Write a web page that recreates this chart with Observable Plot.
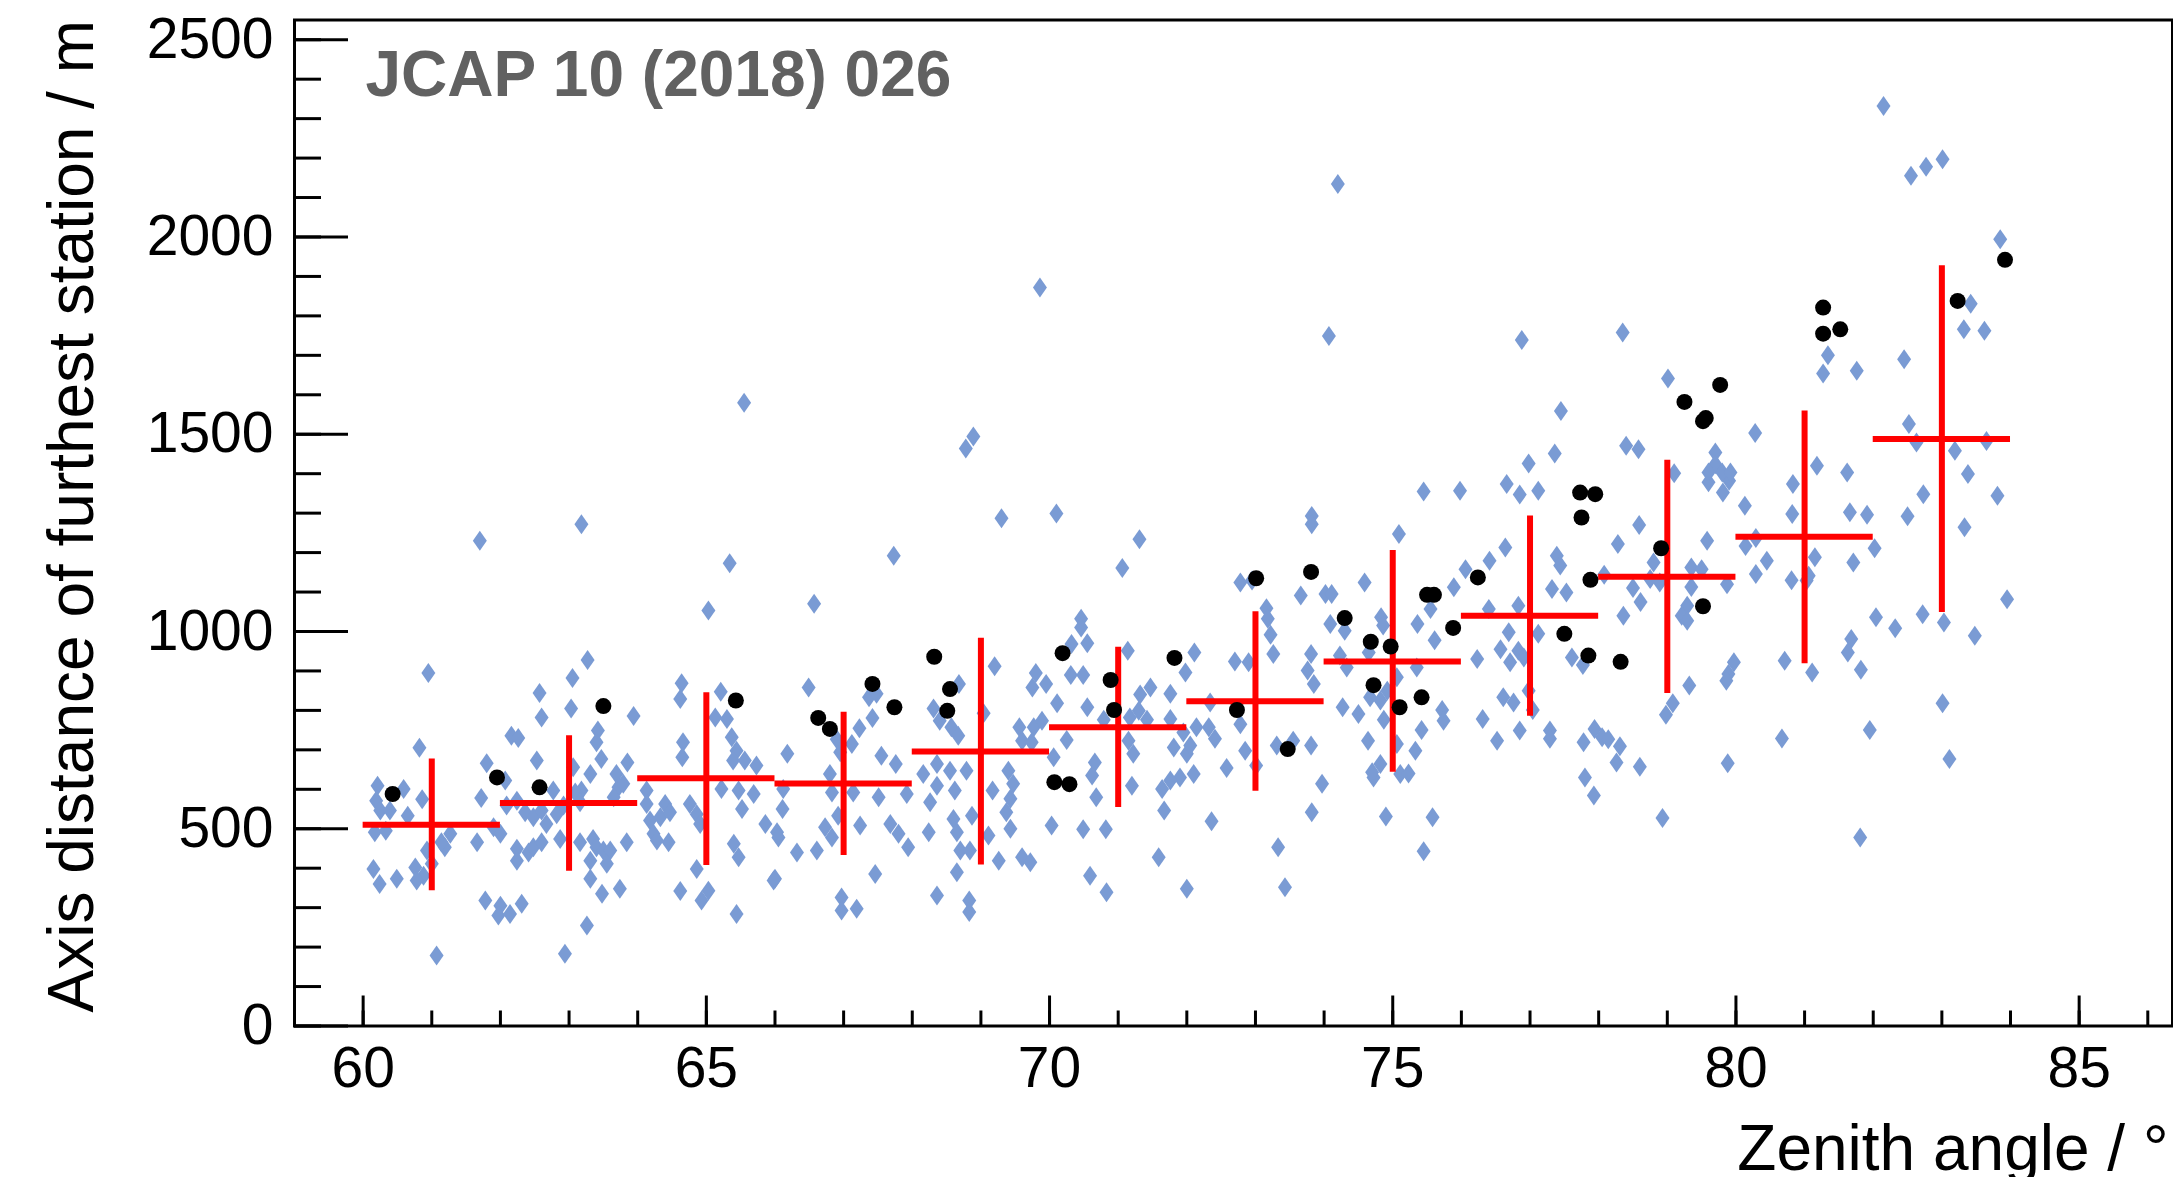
<!DOCTYPE html>
<html>
<head>
<meta charset="utf-8">
<script src="https://cdn.jsdelivr.net/npm/d3@7"></script>
<script src="https://cdn.jsdelivr.net/npm/@observablehq/plot@0.6"></script>
<style>
html, body { margin: 0; padding: 0; background: #fff; }
#chart { width: 2173px; height: 1177px; overflow: hidden; }
#chart svg { display: block; }
</style>
</head>
<body>
<div id="chart"></div>
<script>
// ---- Simulated events (blue diamonds): zenith angle (deg) and distance (m)
const simAngle = [
63.18,61.70,65.34,65.03,63.27,60.95,63.05,62.57,63.03,62.60,
63.94,64.64,64.62,65.21,65.13,65.30,65.37,60.82,62.16,62.26,
63.42,63.40,61.80,62.53,63.47,63.85,64.66,64.65,65.44,65.39,
65.56,65.73,60.21,60.59,60.86,61.72,62.07,60.19,60.25,60.39,
60.65,60.17,60.33,61.90,62.00,62.09,62.24,62.36,62.48,62.60,
62.67,62.82,62.92,62.77,63.06,63.18,63.31,63.09,63.16,63.69,
63.72,63.79,63.65,64.13,64.13,64.18,64.23,64.33,64.40,64.47,
64.45,64.28,64.76,64.86,64.91,65.22,65.47,65.69,65.52,65.86,
61.27,61.19,61.14,61.66,60.93,61.00,60.76,60.88,60.78,60.15,
60.24,60.49,62.24,62.24,62.41,62.48,62.60,62.87,63.16,63.35,
63.40,63.50,63.60,63.31,63.55,63.31,63.48,63.74,63.84,61.78,
62.00,61.97,62.14,62.31,63.26,61.07,62.94,64.62,64.86,64.93,
65.03,65.40,65.47,65.44,65.98,65.55,
69.30,70.10,67.73,71.31,71.06,66.57,70.46,70.46,70.32,70.55,
69.20,71.14,66.49,67.37,67.48,67.42,67.23,68.68,68.31,68.40,
68.57,68.67,69.04,69.80,69.75,69.95,70.11,70.31,70.49,70.55,
70.79,71.32,71.47,71.30,71.17,71.42,71.76,71.76,71.98,71.95,
71.81,71.90,71.76,71.64,72.00,69.56,69.77,69.89,69.60,69.74,
70.25,70.06,70.66,70.62,70.68,71.15,71.22,71.20,71.67,71.59,
72.00,70.59,70.83,70.03,70.49,70.82,66.18,66.12,66.11,66.03,
66.05,66.32,66.61,66.00,66.80,66.83,67.14,66.92,66.73,66.83,
67.24,67.55,67.76,67.51,67.68,67.80,67.92,67.94,67.46,66.97,
66.97,67.19,68.16,68.36,68.55,68.79,68.26,68.36,68.62,68.24,
68.60,68.65,68.87,68.70,68.84,69.11,69.17,69.40,69.47,69.43,
69.37,69.43,69.26,69.60,69.72,68.65,68.36,68.83,68.83,67.12,
66.90,66.95,68.89,68.78,69.86,
75.45,75.98,76.66,76.85,77.12,73.82,73.82,75.09,72.78,72.95,
73.66,74.02,74.11,74.59,76.06,76.41,76.64,75.89,77.39,77.44,
77.32,77.53,73.16,73.18,73.22,73.26,74.09,74.30,74.83,74.86,
75.36,75.55,75.61,76.40,76.83,76.69,77.12,76.57,76.71,76.83,
76.91,76.23,77.61,77.77,72.11,72.70,72.90,73.81,73.76,73.85,
74.23,74.33,74.65,75.35,75.06,74.67,74.82,74.92,74.27,74.50,
74.87,75.72,75.74,75.42,75.06,75.33,74.82,74.64,74.72,74.70,
75.11,75.23,76.61,76.76,76.98,77.04,76.31,76.52,76.85,77.29,
77.29,77.94,77.78,77.80,77.93,72.34,72.14,72.32,72.41,72.78,
72.05,72.10,72.58,72.85,73.01,73.31,73.55,73.81,73.97,73.82,
72.36,73.33,74.90,75.58,75.45,73.43,
79.60,79.81,79.90,80.83,80.13,80.82,81.66,81.91,82.50,82.73,
83.81,83.33,78.59,78.28,79.58,78.80,78.75,78.89,79.35,79.50,
79.35,78.50,78.61,78.08,78.36,79.29,79.21,79.29,79.87,80.14,
80.29,80.45,80.29,80.81,81.15,81.06,81.03,81.71,82.02,82.04,
82.32,82.72,83.03,83.48,83.95,81.68,81.63,81.82,80.71,81.11,
79.97,79.89,79.86,79.32,79.08,78.98,78.05,78.14,78.31,78.26,
78.60,78.93,79.88,80.67,81.95,83.01,83.11,81.81,
74.20,74.07,76.88,77.45,77.36,76.98,
82.15,82.55,82.77,83.01,83.85,83.42,83.32,83.62,82.45,81.34,
81.27,81.76,78.35,79.01,78.40,78.58,80.28,79.70,79.70,79.60,
79.80,79.92,79.10,81.18,81.62,82.52,82.63,83.19,83.38,83.65
];
const simDist = [
1272,1230,1173,1053,928,895,882,844,805,782,
786,869,829,847,782,778,732,705,736,730,
749,719,666,673,677,668,719,681,698,673,
673,660,609,601,575,578,622,571,546,546,
533,491,495,504,487,559,571,542,529,546,
512,537,559,597,656,597,639,592,567,639,
605,614,580,597,563,521,487,529,563,542,
466,470,563,537,512,601,597,588,550,512,
487,453,466,466,445,411,402,381,369,398,
360,373,449,419,440,453,466,474,466,474,
453,445,445,419,411,373,335,348,466,318,
305,280,284,310,255,179,183,342,398,318,
343,462,428,284,369,1580,
1287,1299,1192,1234,1161,1070,1032,1010,968,970,
912,951,858,833,842,781,755,867,805,774,
757,736,793,895,858,867,818,890,890,808,
776,840,858,799,782,776,842,778,896,744,
706,630,622,601,690,757,757,774,723,719,
725,681,668,635,580,723,690,609,546,428,
348,381,339,508,499,499,690,601,550,491,
478,440,445,373,639,592,592,533,504,478,
508,685,664,580,512,487,588,453,385,326,
293,297,639,664,647,647,567,609,597,491,
525,491,533,445,445,483,597,647,614,576,
542,500,419,428,415,390,331,318,289,715,
727,694,1494,1464,1872,
1355,1357,1374,1347,1357,1293,1272,1247,1124,1129,
1091,1095,1095,1124,1158,1179,1213,1112,1192,1167,
1108,1099,1059,1032,992,943,1019,1002,1036,1015,
1019,1057,978,1057,1065,998,994,955,922,951,
934,930,934,915,947,924,922,943,901,867,
939,909,947,909,884,833,825,850,808,791,
776,801,774,750,715,698,664,723,630,643,
639,640,833,820,850,801,778,723,749,749,
728,753,719,630,584,820,757,757,728,765,
711,639,654,698,660,711,723,711,614,542,
519,453,531,529,443,352,
1378,1352,1382,1374,1319,1298,1302,1296,1292,1348,
1344,1264,1270,1222,1230,1175,1133,1124,1162,1158,
1113,1110,1075,1144,1040,1065,1040,1027,1120,1217,
1237,1179,1146,1130,1188,1141,1129,1175,1211,1036,
1008,1044,1023,989,1082,981,947,903,926,896,
922,892,875,863,818,789,732,727,709,668,
657,527,666,729,750,818,677,478,
2134,1749,1739,1559,1451,1426,
2332,2155,2178,2197,1994,1831,1766,1762,1690,1700,
1654,1661,1758,1641,1471,1462,1503,1454,1424,1403,
1403,1403,1401,1420,1403,1526,1479,1458,1399,1483
];

// ---- Measured events (black dots)
const dataAngle = [60.43,61.95,62.57,63.50,65.43,66.63,66.80,67.42,67.74,68.32,68.55,68.51,70.19,70.07,70.29,70.89,70.94,71.82,73.01,72.73,73.47,73.81,74.30,74.68,74.97,74.72,75.10,75.42,75.50,75.60,75.88,76.24,77.50,77.85,77.73,77.95,77.75,77.88,78.91,79.52,78.32,81.27,81.27,81.52,79.77,79.25,79.52,79.56,83.23,83.92];
const dataDist = [588,630,605,811,825,781,753,867,808,936,854,799,945,618,613,877,801,933,1135,801,702,1151,1034,974,962,864,808,833,1093,1093,1009,1137,994,939,1352,1348,1289,1131,1211,1064,923,1821,1755,1766,1625,1582,1533,1541,1838,1942];

// ---- Binned profile (red crosses)
const binCenter = [61,63,65,67,69,71,73,75,77,79,81,83];
const binEdgeLow = [60,62,64,66,68,70,72,74,76,78,80,82];
const binEdgeHigh = [62,64,66,68,70,72,74,76,78,80,82,84];
const binMean = [510,565,628,615,696,757,823,924,1040,1139,1240,1488];
const binLow  = [343,392,407,432,408,554,595,643,785,843,918,1048];
const binHigh = [677,736,845,795,983,960,1050,1205,1293,1434,1559,1927];

// ---- Axis ticks and texts
const xMajor = [60,65,70,75,80,85];
const xMinor = [60,61,62,63,64,65,66,67,68,69,70,71,72,73,74,75,76,77,78,79,80,81,82,83,84,85,86];
const yMajor = [0,500,1000,1500,2000,2500];
const yMinor = [0,100,200,300,400,500,600,700,800,900,1000,1100,1200,1300,1400,1500,1600,1700,1800,1900,2000,2100,2200,2300,2400,2500];
const xTitle = "Zenith angle / °";
const yTitle = "Axis distance of furthest station / m";
const stamp = "JCAP 10 (2018) 026";

// ---- build tables
const sim = simAngle.map((a, i) => ({a, d: simDist[i]}));
const dat = dataAngle.map((a, i) => ({a, d: dataDist[i]}));
const bins = binCenter.map((c, i) => ({c, lo: binEdgeLow[i], hi: binEdgeHigh[i], mean: binMean[i], low: binLow[i], high: binHigh[i]}));

const W = 2173, H = 1177;
const mL = 294, mR = 1, mT = 19.5, mB = 151.5;
const plotW = W - mL - mR, plotH = H - mT - mB;

const tallDiamond = {
  draw(ctx, size) {
    const r = Math.sqrt(size / Math.PI);
    const w = r * 0.7, h = r;
    ctx.moveTo(0, -h); ctx.lineTo(w, 0); ctx.lineTo(0, h); ctx.lineTo(-w, 0); ctx.closePath();
  }
};

const font = "'Liberation Sans', Arial, Helvetica, sans-serif";

const chart = Plot.plot({
  width: W, height: H,
  marginLeft: mL, marginRight: mR, marginTop: mT, marginBottom: mB,
  style: {fontFamily: font, background: "#fff", color: "#000", overflow: "hidden"},
  x: {domain: [59, 86.36]},
  y: {domain: [0, 2550]},
  marks: [
    Plot.dot(sim, {x: "a", y: "d", symbol: tallDiamond, r: 10, fill: "#7a9bd4", stroke: null}),
    Plot.ruleY(bins, {y: "mean", x1: "lo", x2: "hi", stroke: "#ff0000", strokeWidth: 6}),
    Plot.ruleX(bins, {x: "c", y1: "low", y2: "high", stroke: "#ff0000", strokeWidth: 6}),
    Plot.dot(dat, {x: "a", y: "d", r: 8, fill: "#000", stroke: null}),
    Plot.ruleX(xMinor, {x: d => d, insetTop: plotH - 15, stroke: "#000", strokeWidth: 3}),
    Plot.ruleX(xMajor, {x: d => d, insetTop: plotH - 30, stroke: "#000", strokeWidth: 3}),
    Plot.ruleY(yMinor, {y: d => d, insetRight: plotW - 27, stroke: "#000", strokeWidth: 3}),
    Plot.ruleY(yMajor, {y: d => d, insetRight: plotW - 54, stroke: "#000", strokeWidth: 3}),
    Plot.axisX(xMajor, {tickSize: 0, tickPadding: 21, fontSize: 57, label: null, tickFormat: d => String(d)}),
    Plot.axisY(yMajor, {tickSize: 0, tickPadding: 21, fontSize: 57, label: null, tickFormat: d => String(d)}),
    Plot.frame({stroke: "#000", strokeWidth: 3}),
    Plot.text([xTitle], {text: d => d, frameAnchor: "bottom-right", textAnchor: "end", lineAnchor: "bottom", dx: -4, dy: 143.5, fontSize: 64}),
    Plot.text([yTitle], {text: d => d, frameAnchor: "top-left", rotate: -90, textAnchor: "end", lineAnchor: "bottom", dx: -202, fontSize: 64}),
    Plot.text([stamp], {text: d => d, frameAnchor: "top-left", textAnchor: "start", lineAnchor: "bottom", dx: 71, dy: 75.5, fontSize: 64, fontWeight: "bold", fill: "#616161"})
  ]
});
document.getElementById("chart").appendChild(chart);
</script>
</body>
</html>
